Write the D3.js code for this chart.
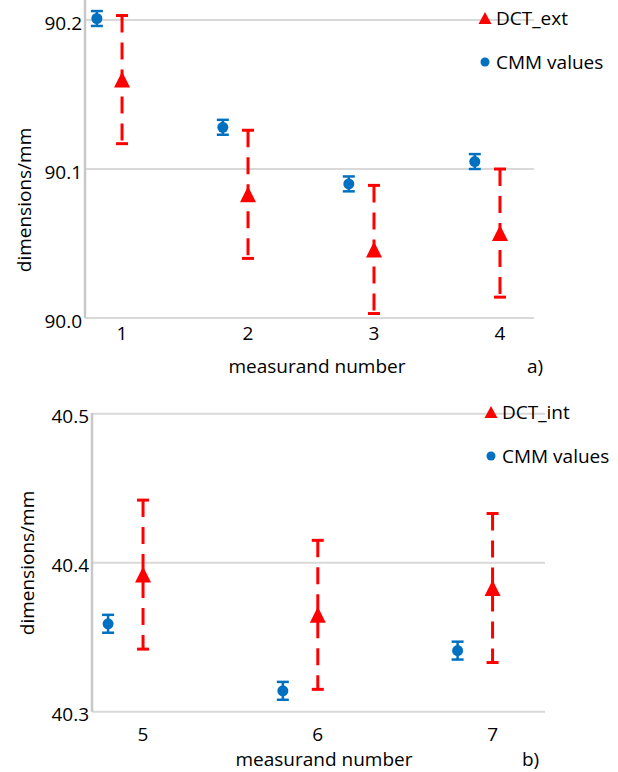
<!DOCTYPE html>
<html>
<head>
<meta charset="utf-8">
<script src="https://cdn.jsdelivr.net/npm/d3@7"></script>
<style>
  body { margin: 0; background: #fff; }
  text { font-family: "Open Sans", sans-serif; fill: #000; }
</style>
</head>
<body>
<svg id="chart" width="618" height="772"></svg>
<script>
// panel a) external dimensions
const measA = [1, 2, 3, 4];
const dctExt = [90.160, 90.083, 90.046, 90.057];
const dctExtErr = [0.043, 0.043, 0.043, 0.043];
const cmmA = [90.201, 90.128, 90.090, 90.105];
const cmmAErr = [0.005, 0.005, 0.005, 0.005];
const yTicksA = [90.0, 90.1, 90.2];

// panel b) internal dimensions
const measB = [5, 6, 7];
const dctInt = [40.392, 40.365, 40.383];
const dctIntErr = [0.050, 0.050, 0.050];
const cmmB = [40.359, 40.314, 40.341];
const cmmBErr = [0.006, 0.006, 0.006];
const yTicksB = [40.3, 40.4, 40.5];

const cmmOffset = -0.2; // CMM points are drawn left of each measurand

const RED = "#ff0000", BLUE = "#0070c0";
const svg = d3.select("#chart");

function drawPanel(opt) {
  const g = svg.append("g");
  const x = d3.scaleLinear().domain(opt.xDomain).range([opt.left, opt.right]);
  const y = d3.scaleLinear().domain(opt.yDomain).range([opt.yBottom, opt.yTop]);

  // gridlines
  g.selectAll(".grid").data(opt.yTicks).join("line")
    .attr("x1", opt.left).attr("x2", opt.right)
    .attr("y1", d => y(d)).attr("y2", d => y(d))
    .attr("stroke", "#d9d9d9").attr("stroke-width", 2);

  // vertical axis line
  g.append("line")
    .attr("x1", opt.left).attr("x2", opt.left)
    .attr("y1", opt.axisTop).attr("y2", y(opt.yDomain[0]))
    .attr("stroke", "#c8c8c8").attr("stroke-width", 2.5);

  // y tick labels
  g.selectAll(".ytick").data(opt.yTicks).join("text")
    .attr("x", opt.left - 3).attr("y", d => y(d) + 9.5)
    .attr("text-anchor", "end").style("font-size", "19px")
    .text(d3.format(".1f"));

  // x tick labels
  g.selectAll(".xtick").data(opt.meas).join("text")
    .attr("x", d => x(d)).attr("y", opt.xTickY)
    .attr("text-anchor", "middle").style("font-size", "19px")
    .text(d => d);

  // axis titles
  g.append("text")
    .attr("transform", `translate(${opt.yTitleX},${opt.yTitleY}) rotate(-90)`)
    .attr("text-anchor", "middle").style("font-size", "19px")
    .text("dimensions/mm");
  g.append("text")
    .attr("x", opt.xTitleX).attr("y", opt.xTitleY)
    .attr("text-anchor", "middle").style("font-size", "19px")
    .text("measurand number");
  g.append("text")
    .attr("x", opt.tagX).attr("y", opt.xTitleY)
    .style("font-size", "19px")
    .text(opt.tag);

  // CMM error bars + markers
  const cmm = opt.meas.map((m, i) => ({ x: m + cmmOffset, v: opt.cmm[i], e: opt.cmmErr[i] }));
  const cg = g.selectAll(".cmm").data(cmm).join("g");
  cg.append("line")
    .attr("x1", d => x(d.x)).attr("x2", d => x(d.x))
    .attr("y1", d => y(d.v + d.e)).attr("y2", d => y(d.v - d.e))
    .attr("stroke", BLUE).attr("stroke-width", 2.5);
  [1, -1].forEach(s => {
    cg.append("line")
      .attr("x1", d => x(d.x) - 6).attr("x2", d => x(d.x) + 6)
      .attr("y1", d => y(d.v + s * d.e)).attr("y2", d => y(d.v + s * d.e))
      .attr("stroke", BLUE).attr("stroke-width", 2.5);
  });
  cg.append("circle")
    .attr("cx", d => x(d.x)).attr("cy", d => y(d.v)).attr("r", 5.5)
    .attr("fill", BLUE);

  // DCT error bars + markers
  const dct = opt.meas.map((m, i) => ({ x: m, v: opt.dct[i], e: opt.dctErr[i] }));
  const dg = g.selectAll(".dct").data(dct).join("g");
  dg.append("line")
    .attr("x1", d => x(d.x)).attr("x2", d => x(d.x))
    .attr("y1", d => y(d.v + d.e)).attr("y2", d => y(d.v - d.e))
    .attr("stroke", RED).attr("stroke-width", 3)
    .attr("stroke-dasharray", "17,10");
  [1, -1].forEach(s => {
    dg.append("line")
      .attr("x1", d => x(d.x) - 6).attr("x2", d => x(d.x) + 6)
      .attr("y1", d => y(d.v + s * d.e)).attr("y2", d => y(d.v + s * d.e))
      .attr("stroke", RED).attr("stroke-width", 3);
  });
  dg.append("path")
    .attr("d", d => triangle(x(d.x), y(d.v), 16, 16))
    .attr("fill", RED);

  // legend
  const lg = g.append("g").attr("transform", `translate(${opt.legX},${opt.legY})`);
  lg.append("path").attr("d", triangle(0, 0, 13, 12)).attr("fill", RED);
  lg.append("text").attr("x", 11).attr("y", 7).style("font-size", "19px").text(opt.dctName);
  lg.append("circle").attr("cx", 0).attr("cy", 44).attr("r", 4.5).attr("fill", BLUE);
  lg.append("text").attr("x", 11).attr("y", 51).style("font-size", "19px").text("CMM values");
}

function triangle(cx, cy, w, h) {
  return `M${cx},${cy - h / 2}L${cx + w / 2},${cy + h / 2}L${cx - w / 2},${cy + h / 2}Z`;
}

drawPanel({
  meas: measA, dct: dctExt, dctErr: dctExtErr, cmm: cmmA, cmmErr: cmmAErr,
  yTicks: yTicksA, dctName: "DCT_ext", tag: "a)",
  xDomain: [0.706, 4.27], left: 85, right: 534,
  yDomain: [90.0, 90.2], yBottom: 318, yTop: 20, axisTop: 0,
  xTickY: 340, yTitleX: 31, yTitleY: 200,
  xTitleX: 317, xTitleY: 373, tagX: 527,
  legX: 485, legY: 18
});

drawPanel({
  meas: measB, dct: dctInt, dctErr: dctIntErr, cmm: cmmB, cmmErr: cmmBErr,
  yTicks: yTicksB, dctName: "DCT_int", tag: "b)",
  xDomain: [4.708, 7.30], left: 92, right: 545,
  yDomain: [40.3, 40.5], yBottom: 711.7, yTop: 413.7, axisTop: 413,
  xTickY: 741, yTitleX: 34, yTitleY: 563,
  xTitleX: 324, xTitleY: 766, tagX: 522,
  legX: 491, legY: 412
});
</script>
</body>
</html>
